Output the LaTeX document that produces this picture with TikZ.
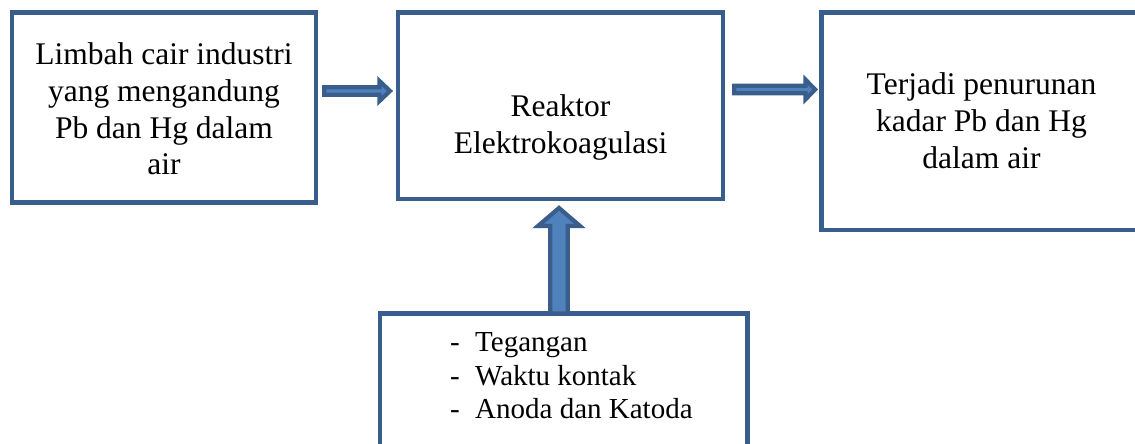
\documentclass[tikz,border=0pt]{standalone}
\usepackage{fontspec}
\setmainfont{Liberation Serif}
\definecolor{boxline}{HTML}{3A5E8C}
\definecolor{arrowfill}{HTML}{4F81BD}
\begin{document}
\begin{tikzpicture}[x=1pt,y=-1pt,
  frame/.style={draw=boxline,line width=4.6pt,fill=white},
  bigtext/.style={font=\fontsize{31.5}{36.8}\selectfont,align=center,inner sep=0pt},
  listtext/.style={font=\fontsize{29}{33.6}\selectfont,align=left,inner sep=0pt,anchor=west},
  blockarrow/.style={draw=boxline,fill=arrowfill,line width=4.2pt,line join=miter}]
\useasboundingbox (0,0) rectangle (1135,444);
% boxes
\draw[frame] (12,12.5) rectangle (316,202.5);
\draw[frame] (398,12.5) rectangle (723,199);
\draw[frame] (821.7,12.5) rectangle (1140,230);
\draw[frame] (380,313.5) rectangle (747.5,460);
% texts
\node[bigtext] (t1) at (164,108.9) {Limbah cair industri\\yang mengandung\\Pb dan Hg dalam\\air};
\node[bigtext] (t2) at (560.5,127.7) {Reaktor\\Elektrokoagulasi};
\node[bigtext] (t3) at (981.5,120.9) {Terjadi penurunan\\kadar Pb dan Hg\\dalam air};
\node[listtext] (t4) at (450,375.8) {\makebox[25pt][l]{-}Tegangan\\\makebox[25pt][l]{-}Waktu kontak\\\makebox[25pt][l]{-}Anoda dan Katoda};
% arrows
\draw[blockarrow] (324.2,87.3) -- (379.5,87.3) -- (379.5,81) -- (390,91) -- (379.5,101) -- (379.5,94.7) -- (324.2,94.7) -- cycle;
\draw[blockarrow] (734.2,85.8) -- (805.5,85.8) -- (805.5,79.7) -- (815.2,89.5) -- (805.5,99.3) -- (805.5,93.2) -- (734.2,93.2) -- cycle;
\draw[blockarrow] (550.3,313.5) -- (550.3,226) -- (538,226) -- (559,208) -- (580,226) -- (567.7,226) -- (567.7,313.5) -- cycle;
\end{tikzpicture}
\end{document}
